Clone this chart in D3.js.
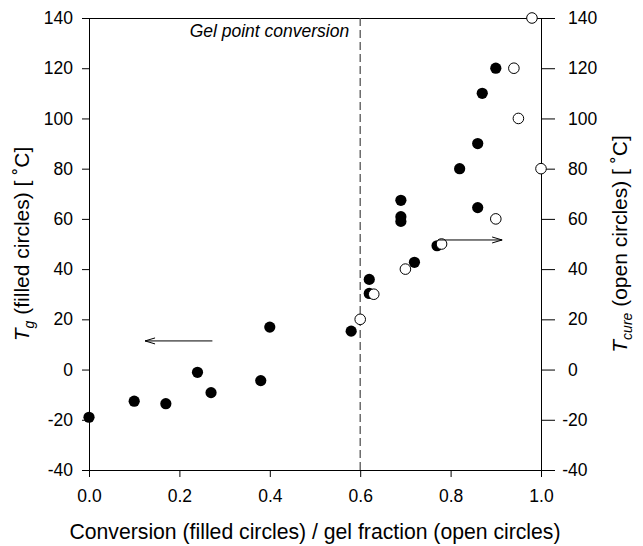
<!DOCTYPE html>
<html>
<head>
<meta charset="utf-8">
<script src="https://cdn.jsdelivr.net/npm/d3@7/dist/d3.min.js"></script>
<style>
  html, body { margin: 0; padding: 0; background: #fff; }
  svg { display: block; }
  text { font-family: "Liberation Sans", Arial, Helvetica, sans-serif; fill: #000; }
</style>
</head>
<body>
<svg id="chart" width="643" height="546"></svg>
<script>
// ---- data ----
const filledX = [0.00, 0.10, 0.17, 0.24, 0.27, 0.38, 0.40, 0.58, 0.62, 0.62, 0.69, 0.69, 0.69, 0.72, 0.77, 0.82, 0.86, 0.86, 0.87, 0.90];
const filledY = [-19.0, -12.6, -13.6, -1.1, -9.2, -4.4, 16.9, 15.3, 35.9, 30.3, 67.4, 60.9, 59.0, 42.7, 49.3, 80.0, 90.0, 64.5, 110.0, 120.0];
const openX = [0.60, 0.63, 0.70, 0.78, 0.90, 1.00, 0.95, 0.94, 0.98];
const openY = [20, 30, 40, 50, 60, 80, 100, 120, 140];
const xTicks = [0.0, 0.2, 0.4, 0.6, 0.8, 1.0];
const xTickLabels = ["0.0", "0.2", "0.4", "0.6", "0.8", "1.0"];
const yTicks = [-40, -20, 0, 20, 40, 60, 80, 100, 120, 140];
const yTickLabels = ["-40", "-20", "0", "20", "40", "60", "80", "100", "120", "140"];
const gelPoint = 0.6;
const gelLabel = "Gel point conversion";
// arrows: [x1, y1, x2, y2] in data units (arrowhead at x2,y2)
const arrowLeft = [0.273, 11.4, 0.124, 11.4];
const arrowRight = [0.772, 51.6, 0.914, 51.6];

// ---- layout ----
const svg = d3.select("#chart");
const M = { left: 89, top: 18, right: 102, bottom: 76 };
const W = 643 - M.left - M.right;   // 452
const H = 546 - M.top - M.bottom;   // 452

const x = d3.scaleLinear().domain([0, 1]).range([0, W]);
const y = d3.scaleLinear().domain([-40, 140]).range([H, 0]);

const g = svg.append("g").attr("transform", `translate(${M.left},${M.top})`);

// frame top line
g.append("line").attr("x1", 0).attr("x2", W).attr("y1", 0.5).attr("y2", 0.5)
  .attr("stroke", "#000").attr("stroke-width", 1);

// dashed gel point line
g.append("line")
  .attr("x1", x(gelPoint)).attr("x2", x(gelPoint))
  .attr("y1", 0).attr("y2", H)
  .attr("stroke", "#555").attr("stroke-width", 1.3)
  .attr("stroke-dasharray", "8,4");

g.append("text")
  .attr("x", x(gelPoint) - 11).attr("y", 19)
  .attr("text-anchor", "end")
  .attr("font-size", 17.5)
  .attr("font-style", "italic")
  .text(gelLabel);

// axes
const fmtX = d => xTickLabels[xTicks.indexOf(d)];
const fmtY = d => yTickLabels[yTicks.indexOf(d)];

const xAxis = g.append("g").attr("transform", `translate(0,${H})`)
  .call(d3.axisBottom(x).tickValues(xTicks).tickFormat(fmtX).tickSize(7).tickPadding(13).tickSizeOuter(0));
const yAxisL = g.append("g")
  .call(d3.axisLeft(y).tickValues(yTicks).tickFormat(fmtY).tickSize(7).tickPadding(9).tickSizeOuter(0));
const yAxisR = g.append("g").attr("transform", `translate(${W},0)`)
  .call(d3.axisRight(y).tickValues(yTicks).tickFormat(fmtY).tickSize(14).tickPadding(13).tickSizeOuter(0));

[xAxis, yAxisL, yAxisR].forEach(a => {
  a.selectAll("text").attr("font-size", 17.5).attr("font-family", null);
  a.selectAll("path, line").attr("stroke", "#000");
  a.attr("font-family", null);
});
// extend axis lines slightly below the x axis like the reference
yAxisL.select("path.domain").attr("d", `M0.5,0V${H + 7}`);
yAxisR.select("path.domain").attr("d", `M0.5,0V${H + 7}`);
// hang minus signs left on the right axis
yAxisR.selectAll(".tick text").attr("x", d => d < 0 ? 27 - 5.8 : 27);

// points
g.append("g").selectAll("circle").data(filledX.map((v, i) => [v, filledY[i]]))
  .join("circle")
  .attr("cx", d => x(d[0])).attr("cy", d => y(d[1]))
  .attr("r", 5.6).attr("fill", "#000");

g.append("g").selectAll("circle").data(openX.map((v, i) => [v, openY[i]]))
  .join("circle")
  .attr("cx", d => x(d[0])).attr("cy", d => y(d[1]))
  .attr("r", 5.3).attr("fill", "#fff").attr("stroke", "#000").attr("stroke-width", 1);

// arrows
function drawArrow(a) {
  const x1 = x(a[0]), y1 = y(a[1]), x2 = x(a[2]), y2 = y(a[3]);
  const dir = Math.sign(x2 - x1);
  g.append("path")
    .attr("d", `M${x1},${y1}H${x2}M${x2 - dir * 10},${y1 - 3}L${x2},${y2}L${x2 - dir * 10},${y1 + 3}`)
    .attr("fill", "none").attr("stroke", "#000").attr("stroke-width", 1);
}
drawArrow(arrowLeft);
drawArrow(arrowRight);

// axis titles
svg.append("text")
  .attr("x", M.left + W / 2).attr("y", 539)
  .attr("text-anchor", "middle").attr("font-size", 21.2)
  .text("Conversion (filled circles) / gel fraction (open circles)");

const cy = M.top + H / 2;
const tl = svg.append("text")
  .attr("transform", `translate(29,${cy}) rotate(-90)`)
  .attr("text-anchor", "middle").attr("font-size", 21);
tl.append("tspan").attr("font-style", "italic").text("T");
tl.append("tspan").attr("font-style", "italic").attr("font-size", 14).attr("dy", 5).text("g");
tl.append("tspan").attr("dy", -5).text(" (filled circles) [ \u02DAC]");

const tr = svg.append("text")
  .attr("transform", `translate(627,${cy}) rotate(-90)`)
  .attr("text-anchor", "middle").attr("font-size", 21);
tr.append("tspan").attr("font-style", "italic").text("T");
tr.append("tspan").attr("font-style", "italic").attr("font-size", 14).attr("dy", 5).text("cure");
tr.append("tspan").attr("dy", -5).text(" (open circles) [ \u02DAC]");
</script>
</body>
</html>
